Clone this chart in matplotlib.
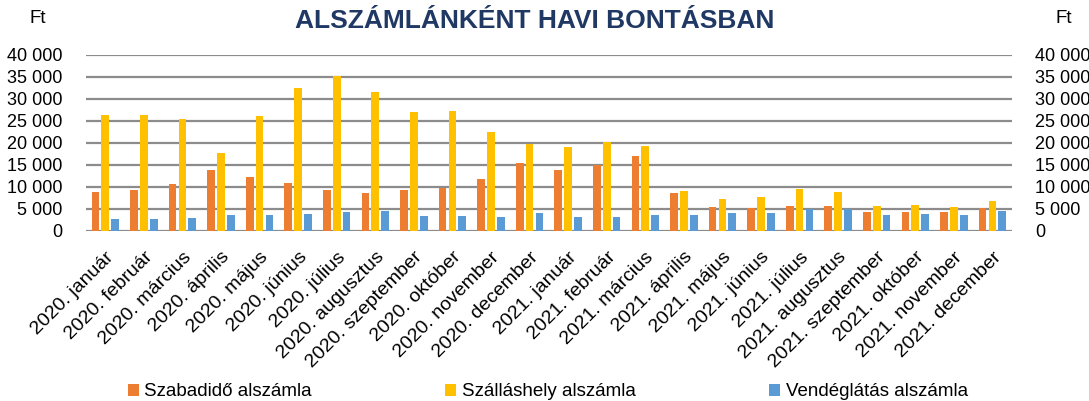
"""
Alszámlánként havi bontásban - grouped bar chart (Ft)
"""

import numpy as np
import matplotlib
matplotlib.use('Agg')
import matplotlib.pyplot as plt
import matplotlib.transforms as mtransforms
from matplotlib.ticker import FuncFormatter

# Data
MONTHS = [
    '2020. január', '2020. február', '2020. március', '2020. április',
    '2020. május', '2020. június', '2020. július', '2020. augusztus',
    '2020. szeptember', '2020. október', '2020. november', '2020. december',
    '2021. január', '2021. február', '2021. március', '2021. április',
    '2021. május', '2021. június', '2021. július', '2021. augusztus',
    '2021. szeptember', '2021. október', '2021. november', '2021. december',
]

szabadido = [8800, 9200, 10700, 13900, 12300, 10800, 9200, 8600,
             9400, 9800, 11800, 15300, 13900, 15000, 16900, 8600,
             5400, 5200, 5700, 5700, 4300, 4400, 4200, 5100]
szallashely = [26300, 26300, 25300, 17700, 26100, 32500, 35200, 31600,
               27000, 27100, 22400, 19700, 19100, 20200, 19300, 9100,
               7300, 7700, 9500, 8800, 5700, 5800, 5400, 6700]
vendeglatas = [2700, 2800, 3000, 3700, 3700, 3900, 4200, 4500,
               3300, 3400, 3200, 4100, 3100, 3200, 3600, 3700,
               4100, 4100, 4900, 4900, 3600, 3900, 3600, 4600]

SERIES = ['Szabadidő alszámla', 'Szálláshely alszámla', 'Vendéglátás alszámla']
COLORS = ['#ED7D31', '#FFC000', '#5B9BD5']

plt.rcParams['font.family'] = ['Liberation Sans', 'DejaVu Sans']

fig = plt.figure(figsize=(10.89, 4.01), dpi=100)
ax = fig.add_axes([0.079, 0.424, 0.850, 0.440])

x = np.arange(len(MONTHS))
width = 0.2
step = 0.255
for i, (vals, name, col) in enumerate(zip([szabadido, szallashely, vendeglatas], SERIES, COLORS)):
    ax.bar(x + (i - 1) * step, vals, width, color=col, label=name, zorder=3)

ax.set_xlim(-0.5, len(MONTHS) - 0.5)
ax.set_ylim(0, 40000)
ax.set_yticks(np.arange(0, 40001, 5000))
ax.yaxis.set_major_formatter(FuncFormatter(lambda v, p: f'{v:,.0f}'.replace(',', ' ')))
ax.grid(axis='y', color='#8c8c8c', linewidth=1.6, zorder=0)
for s in ax.spines.values():
    s.set_visible(False)

# same scale on both sides
ax.tick_params(axis='y', length=0, labelsize=13, pad=17, labelright=True)

ax.set_xticks(x)
ax.set_xticklabels(MONTHS, rotation=45, ha='right', va='center', rotation_mode='anchor')
ax.tick_params(axis='x', length=0, labelsize=14, pad=17)
shift = mtransforms.ScaledTranslation(6 / 100, 0, fig.dpi_scale_trans)
for lbl in ax.get_xticklabels():
    lbl.set_transform(lbl.get_transform() + shift)

fig.text(0.035, 0.955, 'Ft', fontsize=13.5, ha='center', va='center')
fig.text(0.977, 0.955, 'Ft', fontsize=13.5, ha='center', va='center')
fig.text(0.491, 0.948, 'ALSZÁMLÁNKÉNT HAVI BONTÁSBAN', fontsize=19,
         fontweight='bold', color='#1F3864', ha='center', va='center')

fig.legend(loc='lower center', bbox_to_anchor=(0.503, -0.04), ncol=3, frameon=False,
           fontsize=13.5, handlelength=0.6, handleheight=0.6, handletextpad=0.3,
           columnspacing=7.1)

fig.savefig('out.png', dpi=100)
